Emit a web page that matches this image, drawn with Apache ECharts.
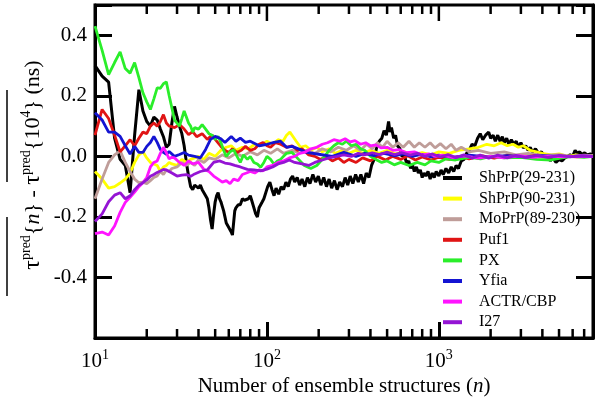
<!DOCTYPE html>
<html><head><meta charset="utf-8">
<script src="https://cdn.jsdelivr.net/npm/echarts@6/dist/echarts.min.js"></script>
<style>html,body{margin:0;padding:0;background:#fff}#c{width:600px;height:405px}</style>
</head><body><div id="c"></div>
<script>
const seriesNames = ['ShPrP(29-231)', 'ShPrP(90-231)', 'MoPrP(89-230)', 'Puf1', 'PX', 'Yfia', 'ACTR/CBP', 'I27'];
const seriesColors = ['#000000', '#ffff00', '#bf9d99', '#e01414', '#2aee2a', '#1414d2', '#ff14ff', '#9414d4'];
const minorTicks = [20,30,40,50,60,70,80,90,200,300,400,500,600,700,800,900,2000,3000,4000,5000,6000,7000];
const majorTicks = [100, 1000];

const shprp29 = [[10,0.30],[11,0.265],[12,0.245],[13,0.06],[14,-0.01],[15,-0.03],[16,-0.12],[17,0.07],[18,0.22],[19,0.15],[20,0.115],[21,0.10],[22,0.13],[23,0.12],[24,0.09],[25,0.065],[26,0.03],[27,0.04],[28,0.11],[29,0.165],[30,0.13],[31,0.10],[32,0.075],[33,0.035],[34,-0.02],[35,-0.065],[36,-0.10],[37,-0.11],[38,-0.095],[39,-0.10],[40,-0.105],[41,-0.095],[42,-0.11],[43,-0.12],[44,-0.13],[45,-0.14],[46,-0.17],[47,-0.21],[48,-0.24],[49,-0.19],[50,-0.15],[51,-0.13],[52,-0.12],[53,-0.14],[54,-0.15],[55,-0.165],[56,-0.18],[57,-0.2],[58,-0.22],[59,-0.215],[60,-0.235],[61,-0.24],[62,-0.25],[63,-0.26],[64,-0.22],[65,-0.18],[66,-0.17],[68,-0.16],[70,-0.16],[72,-0.14],[74,-0.145],[76,-0.15],[78,-0.14],[80,-0.13],[82,-0.15],[84,-0.17],[86,-0.19],[88,-0.2],[90,-0.17],[92,-0.165],[94,-0.15],[96,-0.14],[98,-0.135],[101,-0.10],[104,-0.085],[107,-0.11],[110,-0.13],[113,-0.105],[117,-0.125],[121,-0.10],[125,-0.11],[129,-0.085],[133,-0.10],[137,-0.075],[141,-0.065],[145,-0.085],[150,-0.07],[155,-0.095],[160,-0.075],[166,-0.10],[172,-0.07],[178,-0.09],[185,-0.06],[192,-0.085],[199,-0.065],[206,-0.095],[214,-0.07],[222,-0.1],[230,-0.075],[238,-0.105],[247,-0.08],[256,-0.11],[265,-0.085],[275,-0.1],[285,-0.07],[295,-0.095],[305,-0.065],[316,-0.09],[328,-0.06],[340,-0.085],[352,-0.06],[365,-0.09],[378,-0.055],[392,-0.07],[406,-0.03],[420,-0.01],[435,0.03],[450,0.05],[466,0.06],[480,0.085],[495,0.07],[510,0.115],[520,0.08],[530,0.095],[546,0.06],[560,0.07],[575,0.035],[594,0.025],[610,0.0],[630,0.005],[650,-0.025],[668,-0.015],[685,-0.04],[700,-0.025],[720,-0.05],[740,-0.035],[760,-0.055],[780,-0.045],[800,-0.07],[820,-0.055],[840,-0.065],[865,-0.05],[890,-0.075],[915,-0.055],[940,-0.07],[965,-0.05],[1000,-0.065],[1030,-0.045],[1060,-0.06],[1100,-0.04],[1140,-0.055],[1180,-0.035],[1220,-0.05],[1260,-0.03],[1300,-0.04],[1350,-0.015],[1400,-0.01],[1450,0.01],[1500,0.02],[1560,0.04],[1620,0.035],[1680,0.06],[1740,0.075],[1800,0.055],[1870,0.07],[1950,0.08],[2000,0.06],[2070,0.07],[2130,0.05],[2200,0.07],[2270,0.05],[2340,0.065],[2400,0.045],[2480,0.06],[2550,0.04],[2640,0.055],[2730,0.04],[2820,0.05],[2900,0.03],[3000,0.045],[3100,0.028],[3200,0.035],[3300,0.02],[3400,0.03],[3500,0.015],[3650,0.025],[3800,0.01],[3950,0.015],[4100,0.0],[4300,0.005],[4450,-0.015],[4600,-0.005],[4800,-0.02],[5000,-0.01],[5200,-0.015],[5400,-0.005],[5600,0.0],[5800,0.005],[6000,0.0],[6200,0.02],[6400,0.01],[6600,0.015],[6800,0.005],[7000,0.012],[7300,0.005],[7600,0.008],[7880,0.005]];

const shprp90 = [[10,-0.05],[11,-0.075],[12,-0.105],[13,-0.10],[14,-0.088],[15,-0.075],[16,-0.055],[17,-0.02],[18,0.005],[19,0.015],[20,-0.005],[21,-0.02],[22,-0.025],[23,-0.03],[24,-0.05],[25,-0.035],[26,-0.03],[27,-0.02],[28,-0.025],[30,-0.03],[32,-0.01],[34,-0.02],[36,-0.01],[38,-0.005],[40,0.0],[43,-0.01],[46,0.01],[50,0.0],[54,0.02],[58,0.03],[62,0.035],[66,0.02],[72,0.03],[78,0.025],[85,0.04],[92,0.035],[100,0.05],[108,0.04],[116,0.055],[124,0.05],[130,0.07],[136,0.08],[142,0.065],[148,0.05],[157,0.03],[168,0.035],[180,0.02],[195,0.03],[210,0.015],[230,0.025],[250,0.01],[275,0.02],[300,0.01],[330,0.02],[360,0.01],[400,0.02],[450,0.01],[500,0.02],[560,0.008],[630,0.015],[700,0.005],[800,0.012],[900,0.005],[1000,0.015],[1150,0.01],[1300,0.02],[1500,0.025],[1700,0.03],[1900,0.04],[2100,0.035],[2300,0.045],[2500,0.035],[2700,0.04],[2900,0.03],[3100,0.035],[3400,0.02],[3700,0.015],[4000,0.01],[4500,0.005],[5000,0.008],[5600,0.0],[6300,0.005],[7000,0.0],[7880,0.002]];

const moprp = [[10,-0.14],[11,-0.075],[12,-0.02],[13,0.005],[14,0.018],[15,-0.02],[16,-0.05],[17,-0.075],[18,-0.087],[19,-0.085],[20,-0.09],[21,-0.08],[22,-0.07],[23,-0.065],[24,-0.05],[25,-0.06],[26,-0.045],[27,-0.05],[28,-0.04],[30,-0.035],[32,-0.02],[34,-0.03],[36,-0.02],[38,-0.03],[40,-0.01],[43,-0.02],[46,-0.005],[50,-0.01],[55,0.005],[60,-0.005],[66,0.01],[72,0.0],[80,0.015],[88,0.005],[96,0.02],[105,0.01],[115,0.025],[125,0.01],[140,0.02],[155,0.01],[170,0.02],[190,0.01],[210,0.025],[235,0.015],[260,0.03],[290,0.02],[320,0.035],[350,0.02],[380,0.04],[410,0.025],[440,0.045],[470,0.03],[500,0.05],[540,0.03],[580,0.045],[620,0.03],[670,0.05],[720,0.03],[770,0.045],[830,0.03],[890,0.045],[950,0.028],[1020,0.042],[1100,0.025],[1180,0.04],[1260,0.02],[1350,0.03],[1500,0.015],[1700,0.02],[2000,0.01],[2400,0.015],[2800,0.005],[3300,0.01],[4000,0.003],[5000,0.006],[6000,0.0],[7000,0.004],[7880,0.002]];

const puf1 = [[10,0.07],[11,0.155],[12,0.125],[13,0.07],[14,0.015],[15,0.035],[16,0.055],[17,0.035],[18,0.06],[19,0.08],[20,0.075],[21,0.10],[22,0.11],[23,0.10],[24,0.115],[25,0.138],[26,0.11],[27,0.10],[28,0.098],[29,0.095],[31,0.105],[33,0.09],[35,0.072],[37,0.082],[39,0.065],[42,0.075],[45,0.056],[48,0.07],[51,0.05],[54,0.033],[57,0.02],[60,0.013],[63,0.025],[67,0.013],[71,0.02],[75,0.033],[80,0.02],[85,0.025],[90,0.04],[95,0.046],[100,0.035],[105,0.03],[112,0.045],[120,0.04],[130,0.03],[140,0.035],[150,0.02],[160,0.025],[175,0.005],[190,0.0],[205,-0.01],[220,0.0],[240,-0.015],[260,-0.005],[280,-0.02],[300,-0.01],[330,-0.02],[360,-0.005],[400,-0.015],[440,0.0],[490,-0.012],[540,0.0],[600,-0.01],[660,0.002],[730,-0.012],[800,-0.002],[900,-0.012],[1000,-0.003],[1150,-0.01],[1300,0.0],[1500,-0.008],[1800,0.002],[2100,-0.006],[2500,0.003],[3000,-0.004],[3600,0.002],[4300,-0.003],[5200,0.001],[6300,-0.002],[7880,0.0]];

const px = [[10,0.43],[11,0.35],[12,0.27],[13,0.31],[14,0.345],[15,0.29],[16,0.275],[17,0.31],[18,0.26],[19,0.21],[20,0.18],[21,0.155],[22,0.19],[23,0.226],[24,0.225],[25,0.24],[26,0.246],[27,0.20],[28,0.16],[29,0.12],[30,0.11],[31,0.10],[32,0.125],[33,0.15],[34,0.13],[35,0.11],[36,0.10],[37,0.08],[38,0.095],[40,0.09],[42,0.105],[44,0.09],[46,0.075],[48,0.07],[50,0.056],[52,0.066],[54,0.046],[56,0.02],[58,0.0],[61,0.015],[64,0.022],[67,0.0],[70,-0.02],[73,0.005],[77,-0.01],[80,0.0],[84,-0.02],[88,-0.025],[92,-0.036],[96,-0.02],[100,0.0],[105,-0.01],[110,-0.026],[115,-0.015],[120,-0.01],[130,0.01],[140,0.013],[150,-0.005],[165,-0.03],[180,-0.04],[195,-0.03],[210,-0.01],[230,0.02],[245,0.035],[260,0.045],[275,0.04],[290,0.05],[310,0.035],[330,0.04],[350,0.025],[370,0.02],[400,0.0],[430,-0.01],[465,-0.02],[500,-0.015],[550,-0.028],[600,-0.02],[670,-0.03],[750,-0.02],[830,-0.028],[900,-0.015],[1000,-0.02],[1100,-0.008],[1250,-0.012],[1500,-0.003],[1750,-0.008],[2000,0.0],[2400,-0.005],[3000,-0.003],[3700,-0.01],[4500,-0.012],[5200,-0.005],[6000,0.0],[7000,-0.003],[7880,0.0]];

const yfia = [[10,0.144],[11,0.12],[12,0.08],[13,0.08],[14,0.066],[15,0.035],[16,0.008],[17,0.033],[18,0.013],[19,0.013],[20,0.033],[21,0.046],[22,0.066],[23,0.046],[24,0.023],[25,0.013],[26,0.007],[27,0.016],[29,0.0],[31,0.006],[33,0.013],[35,0.004],[38,0.0],[41,-0.005],[44,0.023],[47,0.056],[50,0.066],[54,0.058],[57,0.046],[62,0.066],[66,0.05],[70,0.06],[75,0.046],[80,0.05],[90,0.035],[100,0.04],[110,0.046],[120,0.05],[130,0.03],[140,0.033],[155,0.023],[170,0.013],[200,0.007],[240,0.0],[280,0.013],[330,0.0],[370,0.01],[420,0.002],[480,0.01],[550,0.002],[620,0.008],[700,0.0],[800,0.007],[900,-0.002],[1000,0.004],[1200,-0.003],[1500,0.004],[1900,-0.002],[2500,0.002],[3200,-0.002],[4000,0.002],[5200,-0.001],[6500,0.001],[7880,0.0]];

const actr = [[10,-0.255],[11,-0.25],[12,-0.26],[13,-0.23],[14,-0.185],[15,-0.152],[16,-0.135],[17,-0.118],[18,-0.10],[19,-0.087],[20,-0.07],[21,-0.035],[22,-0.02],[23,-0.015],[24,0.01],[25,0.03],[26,0.012],[27,-0.008],[28,-0.003],[29,-0.005],[31,-0.02],[33,-0.03],[35,-0.015],[37,-0.025],[40,-0.02],[43,-0.043],[46,-0.05],[49,-0.065],[52,-0.075],[55,-0.085],[58,-0.08],[61,-0.09],[64,-0.075],[68,-0.08],[72,-0.06],[76,-0.055],[80,-0.05],[85,-0.055],[90,-0.045],[95,-0.048],[100,-0.035],[108,-0.03],[116,-0.02],[125,-0.015],[135,-0.005],[145,0.0],[155,0.01],[165,0.013],[180,0.025],[195,0.03],[210,0.04],[225,0.045],[245,0.055],[265,0.05],[285,0.058],[305,0.048],[325,0.052],[350,0.04],[375,0.045],[400,0.035],[430,0.038],[460,0.028],[500,0.03],[540,0.02],[590,0.022],[650,0.012],[720,0.015],[800,0.005],[880,0.008],[960,0.0],[1050,0.004],[1200,-0.004],[1400,0.002],[1700,-0.006],[2000,0.0],[2400,-0.005],[2900,0.002],[3500,-0.003],[4300,0.001],[5300,-0.002],[6500,0.001],[7880,0.0]];

const i27 = [[10,-0.215],[11,-0.19],[12,-0.15],[13,-0.128],[14,-0.12],[15,-0.14],[16,-0.13],[17,-0.11],[18,-0.095],[19,-0.087],[20,-0.078],[21,-0.066],[22,-0.06],[23,-0.053],[24,-0.048],[25,-0.043],[26,-0.045],[27,-0.05],[28,-0.055],[30,-0.065],[32,-0.062],[34,-0.06],[36,-0.066],[38,-0.058],[41,-0.05],[45,-0.045],[49,-0.02],[53,-0.015],[57,-0.022],[61,-0.025],[65,-0.03],[70,-0.035],[77,-0.043],[84,-0.045],[92,-0.048],[100,-0.042],[108,-0.035],[116,-0.025],[125,-0.02],[135,-0.012],[145,-0.02],[160,-0.025],[175,-0.03],[190,-0.02],[210,-0.012],[230,-0.005],[255,0.0],[280,0.005],[310,0.0],[340,0.01],[370,0.005],[410,0.012],[450,0.006],[500,0.014],[550,0.006],[610,0.012],[680,0.004],[750,0.01],[830,0.0],[920,0.008],[1020,-0.002],[1130,0.006],[1260,-0.004],[1400,0.005],[1560,-0.006],[1740,0.004],[1950,-0.006],[2200,0.004],[2500,-0.005],[2800,0.003],[3200,-0.004],[3700,0.003],[4300,-0.003],[5000,0.003],[5800,-0.002],[6800,0.002],[7880,0.0]];

const lineData = [shprp29, shprp90, moprp, puf1, px, yfia, actr, i27];
const X_MIN = 10, X_MAX = 7880, Y_MIN = -0.6, Y_MAX = 0.5, Y_STEP = 0.2;
const F = 'Liberation Serif';
const GRID = {left: 95, right: 7, top: 5, bottom: 67};
const PLOT_H = 405 - GRID.top - GRID.bottom;
const perPx = (Y_MAX - Y_MIN) / PLOT_H;
const MINOR_LEN = 9 * perPx, MAJOR_LEN = 16 * perPx;

const tickData = [];
minorTicks.forEach(v => {
  tickData.push([v, Y_MIN], [v, Y_MIN + MINOR_LEN], '-');
  tickData.push([v, Y_MAX], [v, Y_MAX - MINOR_LEN], '-');
});
majorTicks.forEach(v => { tickData.push([v, Y_MAX], [v, Y_MAX - MAJOR_LEN], '-'); });

const xLabelFmt = v => {
  const e = Math.log10(v);
  if (Math.abs(e - Math.round(e)) > 1e-6) return '';
  return '{b|10}{s|' + Math.round(e) + '}';
};
const yLabelFmt = v => {
  const r = Math.round(v * 10) / 10;
  if (r < -0.55 || r > 0.45) return '';
  return r === 0 ? '0.0' : r.toFixed(1);
};

// Builds the option; each flag switches on one styling block.
function buildOption(f) {
  const axisLine = {show: true, onZero: false, lineStyle: {color: '#000', width: 3}};
  const series = lineData.map((d, i) => ({
    name: seriesNames[i], type: 'line', data: d, showSymbol: false,
    lineStyle: {color: seriesColors[i], width: i === 0 ? 3 : 2.8}, itemStyle: {color: seriesColors[i]}, z: 2 + i
  }));
  series.push({name: 'ticks', type: 'line', data: tickData, showSymbol: false, lineStyle: {color: '#000', width: 2.5}, z: 30});

  const xAxis = {type: 'log', logBase: 10, min: X_MIN, max: X_MAX, axisLine: axisLine, splitLine: {show: false},
    axisTick: {inside: true, length: 16, lineStyle: {color: '#000', width: 3}}};
  if (f.x) {
    xAxis.axisLabel = {formatter: xLabelFmt, margin: 10, color: '#000',
      rich: {b: {fontFamily: F, fontSize: 21, color: '#000', lineHeight: 26},
             s: {fontFamily: F, fontSize: 14, color: '#000', verticalAlign: 'top', lineHeight: 14}}};
    xAxis.name = '{a|Number of ensemble structures (}{i|n}{a|)}';
    xAxis.nameLocation = 'middle';
    xAxis.nameGap = 35;
    xAxis.nameTextStyle = {fontFamily: F, fontSize: 21, color: '#000',
      rich: {a: {fontFamily: F, fontSize: 21, color: '#000'}, i: {fontFamily: F, fontSize: 21, fontStyle: 'italic', color: '#000'}}};
  } else {
    xAxis.axisLabel = {formatter: v => (Math.abs(Math.log10(v) - Math.round(Math.log10(v))) > 1e-6 ? '' : '10^' + Math.round(Math.log10(v))), color: '#000', fontSize: 18};
    xAxis.name = 'Number of ensemble structures (n)';
    xAxis.nameLocation = 'middle';
    xAxis.nameGap = 35;
  }
  const yLeft = {type: 'value', min: Y_MIN, max: Y_MAX, interval: Y_STEP, axisLine: axisLine, splitLine: {show: false},
    axisTick: {inside: true, length: 17, lineStyle: {color: '#000', width: 3}}};
  yLeft.axisLabel = f.y ? {formatter: yLabelFmt, margin: 8, color: '#000', fontFamily: F, fontSize: 21}
                        : {formatter: yLabelFmt, color: '#000', fontSize: 18};
  const yRight = {type: 'value', min: Y_MIN, max: Y_MAX, interval: Y_STEP, position: 'right', axisLine: axisLine,
    splitLine: {show: false}, axisLabel: {show: false}, axisTick: {inside: true, length: 17, lineStyle: {color: '#000', width: 3}}};

  const legend = f.l ? {
    data: seriesNames, orient: 'vertical', left: 443, top: 168, padding: 0,
    itemWidth: 19, itemHeight: 4, itemGap: 0.6, icon: 'rect',
    textStyle: {fontFamily: F, fontSize: 16, color: '#000', lineHeight: 20, padding: [0, 0, 0, 12]}
  } : {data: seriesNames, orient: 'vertical', left: 443, top: 168};

  const opt = {
    animation: false,
    grid: Object.assign({show: true, borderColor: '#000', borderWidth: 3}, GRID),
    xAxis: [xAxis], yAxis: [yLeft, yRight], legend: legend, series: series
  };
  if (f.g) {
    opt.graphic = [
      {type: 'text', x: 33, y: 165, rotation: Math.PI / 2, z: 100,
       style: {text: '{t|τ}{s|pred}{{i|n}} - {t|τ}{s|pred}{10{s|4}} (ns)',
         fontFamily: F, fontSize: 22, fill: '#000', align: 'center', verticalAlign: 'middle',
         rich: {t: {fontFamily: F, fontSize: 24, fill: '#000', lineHeight: 28},
                s: {fontFamily: F, fontSize: 14, fill: '#000', verticalAlign: 'top', lineHeight: 14},
                i: {fontFamily: F, fontSize: 22, fontStyle: 'italic', fill: '#000'}}}},
      {type: 'line', z: 100, shape: {x1: 7, y1: 296, x2: 7, y2: 217}, style: {stroke: '#000', lineWidth: 1.5}},
      {type: 'line', z: 100, shape: {x1: 7, y1: 182, x2: 7, y2: 90}, style: {stroke: '#000', lineWidth: 1.5}}
    ];
  }
  return opt;
}

const dom = document.getElementById('c');
let chart = null;
function render(f) {
  if (chart) { chart.dispose(); }
  chart = echarts.init(dom, null, {renderer: 'canvas'});
  chart.setOption(buildOption(f));
  try { chart.getZr().refreshImmediately(); } catch (e) {}
}
// checks that a minor tick (n = 20, bottom edge) was actually painted
function ticksPainted() {
  try {
    const p = chart.convertToPixel({gridIndex: 0}, [20, Y_MIN]);
    const cvs = dom.querySelector('canvas');
    const r = cvs.width / (cvs.clientWidth || cvs.width);
    const d = cvs.getContext('2d').getImageData(Math.round(p[0] * r), Math.round((p[1] - 5) * r), 1, 1).data;
    return d[3] > 100 && d[0] < 120;
  } catch (e) { return true; }
}

const all = {x: true, y: true, l: true, g: true};
render(all);
if (!ticksPainted()) {
  const none = {x: false, y: false, l: false, g: false};
  render(none);
  if (!ticksPainted()) {
    render(all);
  } else {
    const keep = Object.assign({}, none);
    ['g', 'x', 'y', 'l'].forEach(k => {
      const trial = Object.assign({}, keep, {[k]: true});
      render(trial);
      if (ticksPainted()) keep[k] = true;
    });
    render(keep);
  }
}
</script></body></html>
